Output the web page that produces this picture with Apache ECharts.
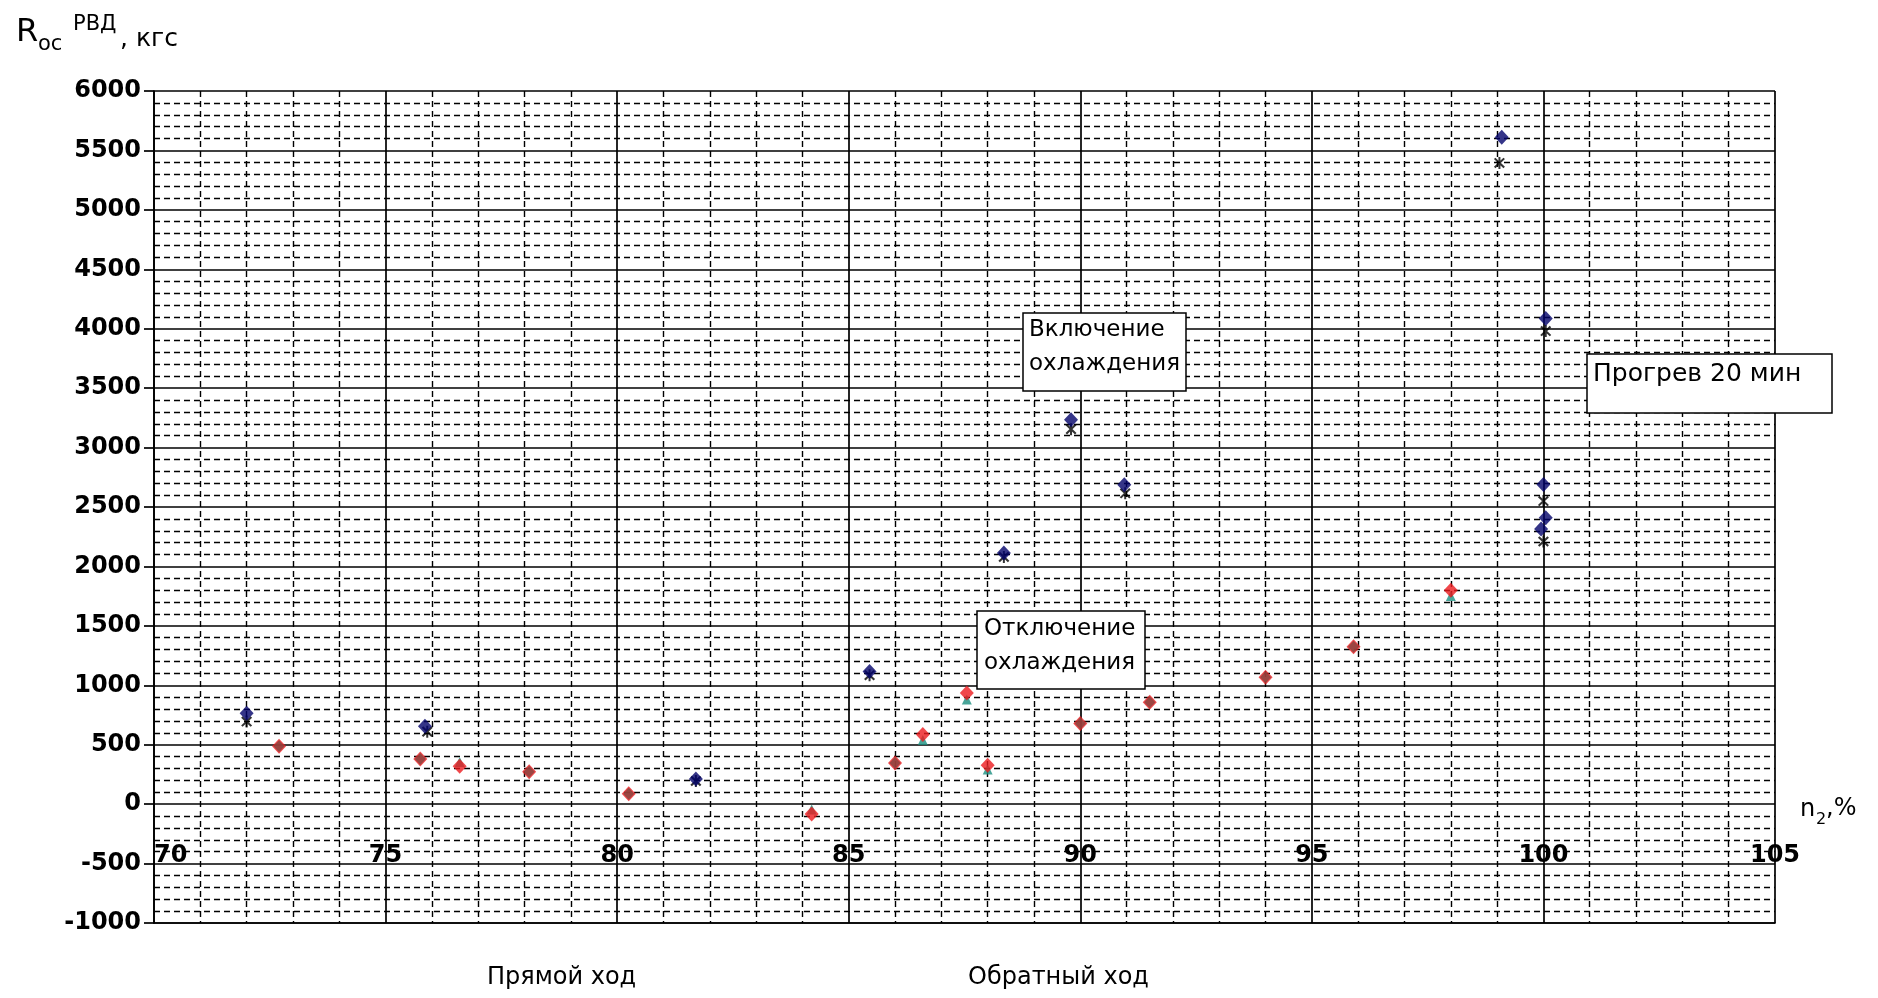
<!DOCTYPE html>
<html><head><meta charset="utf-8">
<script src="https://cdn.jsdelivr.net/npm/echarts@6/dist/echarts.min.js"></script>
<style>html,body{margin:0;padding:0;background:#fff}#c{width:1878px;height:998px}</style>
</head><body><div id="c"></div>
<script>
// Axis ticks
const xTicks = [70, 75, 80, 85, 90, 95, 100, 105];
const yTicks = [-1000, -500, 0, 500, 1000, 1500, 2000, 2500, 3000, 3500, 4000, 4500, 5000, 5500, 6000];

// Navy diamonds
const navyX = [72.0, 75.85, 81.7, 85.45, 88.35, 89.8, 90.95, 99.1, 100.05, 100.0, 100.05, 99.95];
const navyY = [765, 655, 212, 1115, 2112, 3235, 2688, 5610, 4085, 2690, 2410, 2315];
// Black asterisks
const starX = [72.0, 75.9, 81.7, 85.45, 88.35, 89.8, 90.97, 99.05, 100.05, 100.0, 100.0];
const starY = [695, 610, 195, 1085, 2080, 3155, 2615, 5395, 3980, 2550, 2210];
// Red diamonds
const redX = [72.7, 75.75, 76.6, 78.1, 80.25, 84.2, 86.0, 86.6, 87.55, 88.0, 90.0, 91.5, 94.0, 95.9, 98.0];
const redY = [488, 380, 318, 272, 88, -82, 346, 586, 935, 328, 678, 858, 1068, 1324, 1800];
// Brown diamonds (overlapping)
const brownX = [72.7, 75.75, 78.1, 80.25, 86.0, 90.0, 91.5, 94.0, 95.9];
const brownY = [488, 380, 272, 88, 346, 678, 858, 1068, 1324];
// Teal triangles
const tealX = [76.6, 84.2, 86.6, 87.55, 88.0, 98.0];
const tealY = [355, -45, 540, 880, 292, 1752];

const zip = (a, b) => a.map((v, i) => [v, b[i]]);
const asterisk = 'path://M-0.8,-5 L0.8,-5 L0.8,5 L-0.8,5 Z M-4.4,-3.2 L-3.2,-4.4 L4.4,3.2 L3.2,4.4 Z M3.2,-4.4 L4.4,-3.2 L-3.2,4.4 L-4.4,3.2 Z';

const FONT = 'DejaVu Sans';
const majorLine = {color: '#000', width: 1.7};
const minorLine = {color: '#000', width: 1.4, type: [6, 4]};

function txt(text, x, y, size, extra) {
  return Object.assign({
    type: 'text', x: x, y: y, z: 100, silent: true,
    style: {text: text, fontFamily: FONT, fontSize: size, fill: '#000', textAlign: 'left', textVerticalAlign: 'top'}
  }, extra || {});
}
function box(x, y, w, h) {
  return {type: 'rect', z: 99, silent: true, shape: {x: x, y: y, width: w, height: h},
    style: {fill: '#fff', stroke: '#000', lineWidth: 1.5}};
}

const chart = echarts.init(document.getElementById('c'), null, {renderer: 'canvas'});
chart.setOption({
  animation: false,
  backgroundColor: '#fff',
  grid: {left: 154, top: 91, right: 103, bottom: 75, containLabel: false},
  xAxis: {
    type: 'value', min: xTicks[0], max: xTicks[xTicks.length - 1], interval: xTicks[1] - xTicks[0],
    axisLine: {show: true, onZero: false, lineStyle: majorLine},
    axisTick: {show: false},
    axisLabel: {margin: -79, fontFamily: FONT, fontWeight: 'bold', fontSize: 24, color: '#000',
      alignMinLabel: 'left', formatter: v => String(v)},
    splitLine: {show: true, lineStyle: majorLine},
    minorTick: {show: false, splitNumber: 5},
    minorSplitLine: {show: true, lineStyle: minorLine}
  },
  yAxis: {
    type: 'value', min: yTicks[0], max: yTicks[yTicks.length - 1], interval: yTicks[1] - yTicks[0],
    axisLine: {show: true, onZero: false, lineStyle: majorLine},
    axisTick: {show: true, length: 10, lineStyle: majorLine},
    axisLabel: {margin: 13, fontFamily: FONT, fontWeight: 'bold', fontSize: 24, color: '#000', formatter: v => String(v)},
    splitLine: {show: true, lineStyle: majorLine},
    minorTick: {show: false, splitNumber: 5},
    minorSplitLine: {show: true, lineStyle: minorLine}
  },
  series: [
    {type: 'scatter', silent: true, z: 2, data: zip(starX, starY), symbol: asterisk, symbolSize: [11, 12],
      itemStyle: {color: '#000'}},
    {type: 'scatter', silent: true, z: 3, data: zip(navyX, navyY), symbol: 'diamond', symbolSize: [14, 15],
      itemStyle: {color: '#03036a'}},
    {type: 'scatter', silent: true, z: 4, data: zip(tealX, tealY), symbol: 'triangle', symbolSize: [10, 10],
      itemStyle: {color: '#1a8f80'}},
    {type: 'scatter', silent: true, z: 5, data: zip(redX, redY), symbol: 'diamond', symbolSize: [14, 15],
      itemStyle: {color: '#ec1a1e'}},
    {type: 'scatter', silent: true, z: 6, data: zip(brownX, brownY), symbol: 'diamond', symbolSize: [11, 12],
      itemStyle: {color: '#864640'}}
  ],
  graphic: [
    // Y axis title: R_ос^РВД, кгс
    txt('R', 16, 17, 32),
    txt('ос', 38, 34, 21),
    txt('РВД', 73, 14, 21),
    txt(', кгс', 120, 27, 25),
    // X axis name: n2,%
    txt('n', 1800, 798, 24),
    txt('2', 1816, 812, 16),
    txt(',%', 1826, 797, 24),
    // annotations
    box(1023, 313, 163, 78),
    txt('Включение', 1029, 319, 23),
    txt('охлаждения', 1029, 353, 23),
    box(977, 611, 168, 78),
    txt('Отключение', 984, 618, 23),
    txt('охлаждения', 984, 652, 23),
    box(1587, 354, 245, 59),
    txt('Прогрев 20 мин', 1593, 362, 25),
    // bottom captions
    txt('Прямой ход', 487, 966, 24),
    txt('Обратный ход', 968, 966, 24)
  ]
});
</script>
</body></html>
